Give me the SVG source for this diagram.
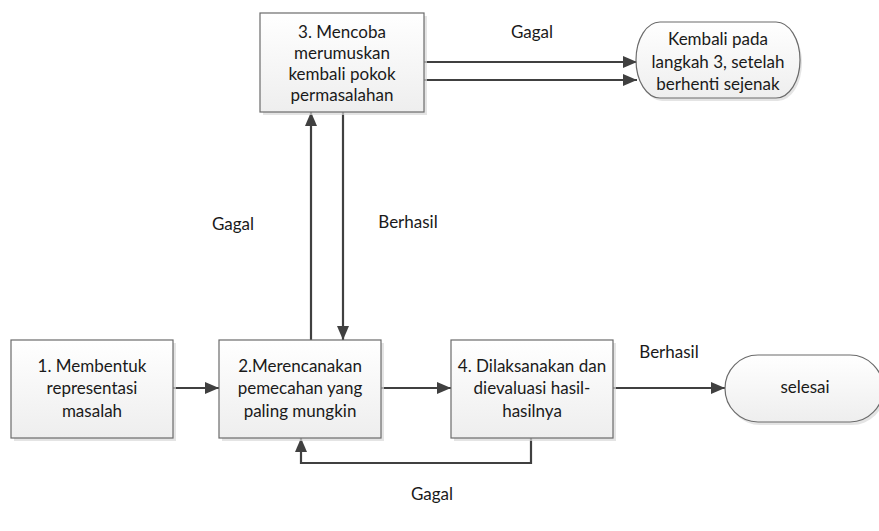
<svg xmlns="http://www.w3.org/2000/svg" width="879" height="531" viewBox="0 0 879 531">
  <style>
    .box { fill: url(#boxFill); stroke: #6b6b6b; stroke-width: 1.2; }
    .shadow { fill: #d9d9d9; opacity: 0.7; }
    .txt { font-family: Lato, "Open Sans", "Liberation Sans", sans-serif; font-size: 17px; fill: #1a1a1a; text-anchor: middle; }
    .wire { fill: none; stroke: #404040; stroke-width: 2.2; }
  </style>
  <defs>
    <linearGradient id="boxFill" x1="0" y1="0" x2="0" y2="1">
      <stop offset="0" stop-color="#ffffff"/>
      <stop offset="1" stop-color="#eeeeee"/>
    </linearGradient>
    <marker id="arrow" viewBox="0 0 14 12" refX="14" refY="6" markerWidth="14" markerHeight="12" markerUnits="userSpaceOnUse" orient="auto">
      <path d="M0,0 L14,6 L0,12 Z" fill="#404040"/>
    </marker>
  </defs>

  <rect width="879" height="531" fill="#ffffff"/>

  <!-- connectors -->
  <g id="connectors">
    <line class="wire" x1="424" y1="62" x2="637" y2="62" marker-end="url(#arrow)"/>
    <line class="wire" x1="424" y1="80" x2="637" y2="80" marker-end="url(#arrow)"/>
    <line class="wire" x1="311" y1="340" x2="311" y2="112" marker-end="url(#arrow)"/>
    <line class="wire" x1="343" y1="112" x2="343" y2="340" marker-end="url(#arrow)"/>
    <line class="wire" x1="173" y1="388" x2="219" y2="388" marker-end="url(#arrow)"/>
    <line class="wire" x1="381" y1="388" x2="451" y2="388" marker-end="url(#arrow)"/>
    <line class="wire" x1="613" y1="388" x2="725" y2="388" marker-end="url(#arrow)"/>
    <polyline class="wire" points="531,438 531,463 301,463 301,438" marker-end="url(#arrow)"/>
  </g>

  <!-- edge labels -->
  <g id="labels">
    <text class="txt" x="532" y="38">Gagal</text>
    <text class="txt" x="233" y="230">Gagal</text>
    <text class="txt" x="408" y="228">Berhasil</text>
    <text class="txt" x="669" y="358">Berhasil</text>
    <text class="txt" x="432" y="500">Gagal</text>
  </g>

  <!-- step 3 -->
  <g id="node-step3">
    <rect class="shadow" x="263" y="16" width="164" height="99"/>
    <rect class="box" x="260" y="13" width="164" height="99"/>
    <text class="txt" x="342" y="38">3. Mencoba</text>
    <text class="txt" x="342" y="59">merumuskan</text>
    <text class="txt" x="342" y="80">kembali pokok</text>
    <text class="txt" x="342" y="101">permasalahan</text>
  </g>

  <!-- return terminal -->
  <g id="node-return">
    <path class="shadow" d="M662,25 H778 A24,38 0 0 1 778,101 H662 A24,38 0 0 1 662,25 Z"/>
    <path class="box" d="M660,22 H776 A24,38 0 0 1 776,98 H660 A24,38 0 0 1 660,22 Z"/>
    <text class="txt" x="718" y="45">Kembali pada</text>
    <text class="txt" x="718" y="68">langkah 3, setelah</text>
    <text class="txt" x="718" y="90">berhenti sejenak</text>
  </g>

  <!-- step 1 -->
  <g id="node-step1">
    <rect class="shadow" x="14" y="343" width="162" height="98"/>
    <rect class="box" x="11" y="340" width="162" height="98"/>
    <text class="txt" x="92" y="372">1. Membentuk</text>
    <text class="txt" x="92" y="394">representasi</text>
    <text class="txt" x="92" y="417">masalah</text>
  </g>

  <!-- step 2 -->
  <g id="node-step2">
    <rect class="shadow" x="222" y="343" width="162" height="98"/>
    <rect class="box" x="219" y="340" width="162" height="98"/>
    <text class="txt" x="300" y="372">2.Merencanakan</text>
    <text class="txt" x="300" y="394">pemecahan yang</text>
    <text class="txt" x="300" y="417">paling mungkin</text>
  </g>

  <!-- step 4 -->
  <g id="node-step4">
    <rect class="shadow" x="454" y="343" width="162" height="98"/>
    <rect class="box" x="451" y="340" width="162" height="98"/>
    <text class="txt" x="532" y="372">4. Dilaksanakan dan</text>
    <text class="txt" x="532" y="394">dievaluasi hasil-</text>
    <text class="txt" x="532" y="417">hasilnya</text>
  </g>

  <!-- end terminal -->
  <g id="node-end">
    <path class="shadow" d="M760,358 H852 A33,33.5 0 0 1 852,425 H760 A33,33.5 0 0 1 760,358 Z"/>
    <path class="box" d="M758,355 H850 A33,33.5 0 0 1 850,422 H758 A33,33.5 0 0 1 758,355 Z"/>
    <text class="txt" x="805" y="393">selesai</text>
  </g>
</svg>
